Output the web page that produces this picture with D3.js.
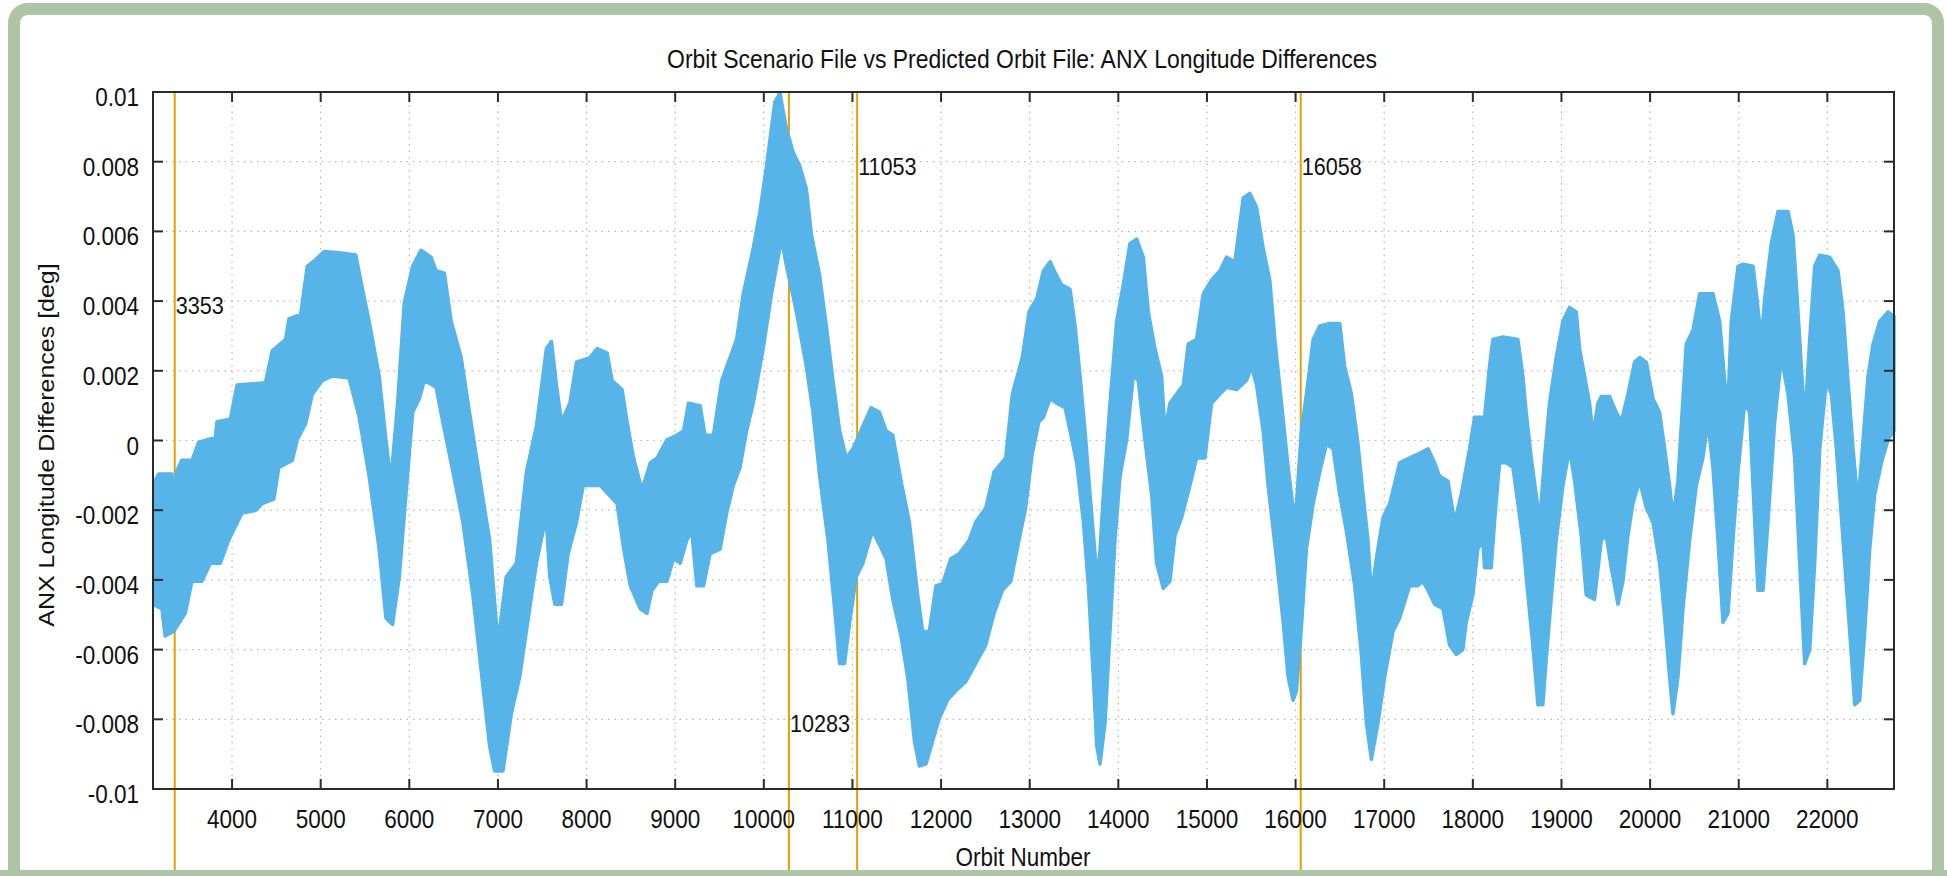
<!DOCTYPE html>
<html><head><meta charset="utf-8">
<script src="https://cdn.jsdelivr.net/npm/d3@7"></script>
<style>
html,body{margin:0;padding:0;background:#ffffff;}
svg{display:block;font-family:"Liberation Sans",Arial,Helvetica,sans-serif;}
</style>
</head><body>
<svg id="chart" width="1947" height="876"></svg>
<script>
// ---- DATA (orbit number, ANX longitude difference in 1e-3 deg) ----
// upper envelope of the scatter band
const upperOrbit = [3108,3170,3321,3350,3372,3434,3547,3623,3811,3830,3981,4057,4377,4453,4604,4642,4774,4849,4943,5038,5208,5396,5472,5547,5660,5736,5792,5868,5943,6038,6132,6245,6302,6396,6472,6585,6679,6792,6906,7000,7094,7208,7321,7434,7547,7604,7660,7717,7811,7887,8038,
8119,8232,8288,8400,8457,8531,8625,8719,8794,8906,9019,9094,9150,9281,9337,9431,9525,9600,9693,9768,9881,9956,10031,10124,10181,10256,10331,10406,10480,10537,10630,10705,10780,10855,10930,11005,11118,11211,11305,11380,11455,11548,11642,11736,11792,11867,11942,12017,12110,12204,12316,12391,12504,12598,12729,12804,12917,12992,
13080,13155,13230,13305,13361,13455,13512,13568,13624,13681,13737,13775,13831,13906,13981,14056,14131,14207,14282,14338,14413,14488,14526,14582,14657,14733,14789,14883,14958,15052,15146,15221,15315,15409,15484,15559,15634,15709,15766,15841,15916,15972,16010,16066,16122,16198,16273,16385,16498,16554,16630,16705,16761,16817,16855,16911,16987,17062,17174,17287,17400,17494,17569,17625,17719,17794,17869,17963,
18019,18132,18188,18226,18339,18508,18564,18602,18659,18715,18753,18809,18865,18941,19016,19091,19167,19204,19261,19317,19355,19411,19449,19543,19618,19675,19750,19825,19882,19957,20032,20107,20164,20220,20258,20314,20408,20484,20559,20709,20785,20841,20879,20916,20992,21048,21161,21199,21255,21293,21368,21443,21556,21612,21650,21688,21744,21801,21857,21914,22026,22120,22177,22233,22290,22346,22403,22459,22516,22591,22685,22752];
const upperMilliDeg = [-1.29,-0.96,-0.96,-1.8,-0.9,-0.57,-0.57,-0.05,0.09,0.54,0.61,1.59,1.66,2.57,2.90,3.49,3.62,5.0,5.19,5.42,5.39,5.32,4.34,3.42,1.85,0.02,-1.16,1.07,3.95,5.0,5.46,5.26,4.87,4.80,3.42,2.38,0.81,-1.03,-2.86,-5.81,-3.91,-3.52,-0.90,0.41,2.64,2.84,1.59,0.54,1.07,2.25,2.38,
2.64,2.51,1.72,1.46,0.54,-0.51,-1.42,-0.64,-0.51,0.02,0.15,0.28,1.07,1.00,0.15,0.15,1.72,2.25,2.90,4.21,5.52,6.57,7.88,9.71,9.97,8.93,8.27,7.88,7.22,5.91,4.73,3.29,1.72,0.28,-0.50,-0.24,0.41,0.94,0.81,0.28,0.15,-1.16,-2.34,-4.43,-5.48,-5.48,-4.17,-4.11,-3.39,-3.25,-2.86,-2.34,-1.94,-0.90,-0.50,1.33,2.38,3.69,
4.08,4.87,5.13,4.73,4.47,4.34,3.29,1.85,0.28,-1.55,-3.25,-3.91,-1.55,1.07,3.42,4.47,5.65,5.78,5.26,3.69,2.64,1.85,0.28,1.07,1.33,1.59,2.77,2.90,4.21,4.60,4.87,5.26,5.13,6.96,7.09,6.70,5.52,4.60,2.90,1.07,-0.77,-1.94,-1.81,0.28,1.33,2.90,3.29,3.36,3.36,2.12,1.33,-0.11,-1.55,-2.86,-4.43,-3.39,-2.21,-1.81,-0.64,-0.50,-0.37,-0.24,-0.64,-1.03,-1.16,-2.34,-1.55,-0.24,
0.67,0.67,2.12,2.90,2.97,2.90,1.85,0.81,-0.50,-1.55,-2.34,-0.50,1.07,2.38,3.42,3.82,3.69,2.64,1.85,1.07,0.15,1.07,1.26,1.26,0.81,0.54,1.33,2.25,2.38,2.25,1.20,0.81,-0.24,-1.29,-2.21,-1.16,2.77,3.16,4.21,4.21,3.42,1.72,1.07,3.42,5.0,5.06,5.0,4.21,2.90,4.08,5.65,6.57,6.57,5.91,4.47,2.90,0.54,2.90,5.0,5.32,5.26,4.87,3.69,1.72,-0.24,-1.81,0.02,1.85,2.77,3.42,3.69,3.56];

// lower envelope of the scatter band
const lowerOrbit = [3108,3208,3245,3340,3472,3547,3660,3755,3868,3962,4113,4264,4340,4472,4528,4679,4736,4830,4906,5019,5132,5321,5434,5547,5660,5736,5811,5887,5962,6038,6113,6170,6302,6377,6472,6604,6717,6830,6906,6962,7057,7151,7245,7358,7434,7509,7547,7585,7642,7717,7792,7887,7962,
8044,8157,8344,8419,8494,8606,8681,8738,8813,8906,8981,9056,9131,9187,9244,9319,9394,9506,9581,9656,9731,9806,9881,9993,10087,10199,10256,10368,10480,10555,10630,10724,10799,10855,10911,10968,11043,11118,11193,11230,11305,11380,11455,11548,11623,11699,11755,11830,11905,11980,12073,12167,12279,12391,12504,12598,12692,12786,12879,12954,13029,13104,
13155,13230,13305,13399,13455,13530,13606,13662,13718,13756,13793,13850,13906,13962,14019,14094,14169,14225,14300,14376,14432,14507,14582,14639,14714,14808,14883,14977,15052,15146,15221,15334,15446,15503,15559,15634,15690,15784,15860,15916,15972,16010,16066,16122,16198,16273,16348,16423,16498,16573,16667,16742,16799,16855,16930,17005,17099,17174,17287,17381,17437,17494,17569,17663,17738,17813,17887,17925,
18000,18056,18113,18132,18207,18245,18301,18376,18452,18508,18564,18621,18677,18734,18790,18828,18884,18941,19016,19091,19148,19223,19279,19373,19449,19505,19562,19637,19693,19750,19806,19882,19957,20032,20107,20164,20220,20258,20314,20371,20446,20521,20596,20653,20709,20766,20822,20879,20935,20992,21067,21123,21161,21217,21274,21330,21406,21481,21556,21631,21688,21744,21801,21857,21914,21989,22045,22102,22177,22252,22309,22365,22422,22478,22534,22610,22685,22752];
const lowerMilliDeg = [-4.70,-4.83,-5.61,-5.48,-4.96,-4.04,-4.04,-3.52,-3.52,-2.86,-2.08,-2.01,-1.81,-1.68,-0.77,-0.57,0.02,0.48,1.33,1.72,1.85,1.79,0.67,-1.03,-3.12,-5.09,-5.28,-3.91,-1.55,0.81,1.20,1.72,1.53,0.54,-0.64,-2.34,-4.43,-7.05,-8.76,-9.48,-9.48,-7.84,-6.79,-4.83,-3.52,-2.60,-2.34,-3.91,-4.70,-4.70,-3.25,-2.34,-1.29,
-1.29,-1.29,-1.81,-3.12,-4.17,-4.83,-4.96,-4.30,-4.04,-4.04,-3.39,-3.52,-2.86,-2.60,-4.17,-4.17,-3.25,-3.12,-2.08,-1.29,-0.77,0.28,1.07,2.64,4.21,5.78,5.0,3.69,2.12,0.81,-1.03,-2.86,-4.83,-6.40,-6.40,-5.22,-3.91,-3.52,-2.86,-2.60,-2.99,-3.39,-4.56,-5.61,-6.79,-8.62,-9.34,-9.28,-8.62,-7.97,-7.45,-7.18,-6.92,-6.40,-5.87,-4.96,-4.30,-4.04,-2.86,-1.94,-0.37,0.54,
0.67,1.20,1.07,0.94,0.28,-0.64,-2.34,-4.17,-6.79,-8.76,-9.28,-8.10,-5.48,-2.86,-1.03,0.02,1.85,1.72,0.02,-1.55,-3.52,-4.24,-4.04,-2.73,-2.21,-1.29,-0.50,-0.50,1.07,1.33,1.53,1.46,1.72,2.12,1.59,0.28,-1.29,-3.39,-5.22,-6.79,-7.45,-7.18,-5.35,-3.12,-1.81,-0.90,-0.11,-0.24,-1.55,-2.60,-4.17,-6.14,-8.10,-9.15,-8.10,-6.79,-5.48,-5.09,-4.17,-4.17,-4.04,-4.30,-4.70,-4.83,-5.87,-6.14,-6.0,-5.22,
-4.43,-3.12,-2.86,-3.65,-3.65,-2.34,-0.64,-0.64,-0.77,-1.81,-2.86,-4.43,-5.87,-7.58,-7.58,-6.27,-4.56,-2.86,-1.29,-0.24,-1.16,-2.73,-4.43,-4.56,-2.86,-2.73,-3.65,-4.70,-4.04,-2.73,-1.81,-1.16,-1.94,-2.34,-3.52,-5.09,-6.79,-7.84,-6.79,-4.83,-2.86,-1.29,-0.50,0.54,-0.77,-2.86,-5.22,-4.96,-2.86,-0.90,1.07,0.81,-1.29,-4.30,-4.30,-2.34,0.54,2.38,1.33,-0.50,-3.52,-6.40,-6.01,-3.52,-0.24,1.72,1.33,-0.24,-2.86,-5.48,-7.58,-7.45,-5.48,-3.12,-1.55,-0.64,0.02,0.28];

// marked orbits (vertical lines) and the level at which their label sits
const markerOrbits = [3353, 10283, 11053, 16058];
const markerLabelLevels = [0.004, -0.008, 0.008, 0.008];

// axes
const xTickValues = [4000,5000,6000,7000,8000,9000,10000,11000,12000,13000,14000,15000,16000,17000,18000,19000,20000,21000,22000];
const yTickValues = [-0.01,-0.008,-0.006,-0.004,-0.002,0,0.002,0.004,0.006,0.008,0.01];
const yTickLabels = ["-0.01","-0.008","-0.006","-0.004","-0.002","0","0.002","0.004","0.006","0.008","0.01"];
const xDomain = [3108, 22752];
const yDomain = [-0.01, 0.01];

const titleText = "Orbit Scenario File vs Predicted Orbit File: ANX Longitude Differences";
const xLabelText = "Orbit Number";
const yLabelText = "ANX Longitude Differences [deg]";

// ---- LAYOUT ----
const W = 1947, H = 876;
const plot = {left: 153, right: 1894, top: 92, bottom: 789};
const squeeze = 0.9;   // the source image is horizontally compressed
const dataColor = "#56B4E9";
const markerColor = "#E69F00";
const frameColor = "#2b2b2b";

const svg = d3.select("#chart");

// page border
svg.append("rect").attr("x",0).attr("y",0).attr("width",W).attr("height",H).attr("fill","#ffffff");
svg.append("rect").attr("x",14).attr("y",9).attr("width",1924).attr("height",900)
  .attr("rx",14).attr("ry",14).attr("fill","#ffffff").attr("stroke","#adc4a7").attr("stroke-width",12);
svg.append("rect").attr("x",0).attr("y",870).attr("width",W).attr("height",6).attr("fill","#adc4a7");

const x = d3.scaleLinear().domain(xDomain).range([plot.left, plot.right]);
const y = d3.scaleLinear().domain(yDomain).range([plot.bottom, plot.top]);

// grid
const grid = svg.append("g").attr("stroke","#b8b8b8").attr("stroke-width",1.2).attr("stroke-dasharray","1.5,5");
grid.selectAll("line.gx").data(xTickValues).join("line").attr("class","gx")
  .attr("x1",d=>x(d)).attr("x2",d=>x(d)).attr("y1",plot.top).attr("y2",plot.bottom);
grid.selectAll("line.gy").data(yTickValues.slice(1,-1)).join("line").attr("class","gy")
  .attr("y1",d=>y(d)).attr("y2",d=>y(d)).attr("x1",plot.left).attr("x2",plot.right);

// marker lines (under the data)
svg.append("g").selectAll("line").data(markerOrbits).join("line")
  .attr("x1",d=>x(d)).attr("x2",d=>x(d)).attr("y1",plot.top).attr("y2",870)
  .attr("stroke",markerColor).attr("stroke-width",2);

// data band
const upper = upperOrbit.map((o,i)=>[o, upperMilliDeg[i]/1000]);
const lower = lowerOrbit.map((o,i)=>[o, lowerMilliDeg[i]/1000]);
const band = upper.concat(lower.slice().reverse());
const line = d3.line().x(d=>x(d[0])).y(d=>y(d[1]));
const clip = svg.append("clipPath").attr("id","plotclip").append("rect")
  .attr("x",plot.left).attr("y",plot.top-4).attr("width",plot.right-plot.left+4).attr("height",plot.bottom-plot.top+8);
svg.append("path").attr("d", line(band) + "Z").attr("clip-path","url(#plotclip)")
  .attr("fill", dataColor).attr("stroke", dataColor).attr("stroke-width", 3.5).attr("stroke-linejoin","round");

// marker labels
svg.append("g").selectAll("text").data(markerOrbits).join("text")
  .attr("transform",(d,i)=>`translate(${x(d)+1},${y(markerLabelLevels[i])+13}) scale(${squeeze},1)`)
  .attr("font-size",24).attr("fill","#111").text(d=>String(d));

// frame
svg.append("rect").attr("x",plot.left).attr("y",plot.top).attr("width",plot.right-plot.left).attr("height",plot.bottom-plot.top)
  .attr("fill","none").attr("stroke",frameColor).attr("stroke-width",2);

// ticks (mirrored, inward)
const tl = 10;
const ticks = svg.append("g").attr("stroke",frameColor).attr("stroke-width",2);
ticks.selectAll("line.tb").data(xTickValues).join("line").attr("class","tb")
  .attr("x1",d=>x(d)).attr("x2",d=>x(d)).attr("y1",plot.bottom).attr("y2",plot.bottom-tl);
ticks.selectAll("line.tt").data(xTickValues).join("line").attr("class","tt")
  .attr("x1",d=>x(d)).attr("x2",d=>x(d)).attr("y1",plot.top).attr("y2",plot.top+tl);
ticks.selectAll("line.tl").data(yTickValues).join("line").attr("class","tl")
  .attr("y1",d=>y(d)).attr("y2",d=>y(d)).attr("x1",plot.left).attr("x2",plot.left+tl);
ticks.selectAll("line.tr").data(yTickValues).join("line").attr("class","tr")
  .attr("y1",d=>y(d)).attr("y2",d=>y(d)).attr("x1",plot.right).attr("x2",plot.right-tl);

// tick labels
svg.append("g").selectAll("text").data(xTickValues).join("text")
  .attr("transform",d=>`translate(${x(d)},828) scale(${squeeze},1)`)
  .attr("text-anchor","middle").attr("font-size",25).attr("fill","#111").text(d=>String(d));
svg.append("g").selectAll("text").data(yTickValues).join("text")
  .attr("transform",d=>`translate(139,${y(d)+14}) scale(${squeeze},1)`)
  .attr("text-anchor","end").attr("font-size",25).attr("fill","#111").text((d,i)=>yTickLabels[i]);

// title and axis labels
svg.append("text").attr("transform",`translate(1022,68) scale(${squeeze},1)`)
  .attr("text-anchor","middle").attr("font-size",25.5).attr("fill","#111").text(titleText);
svg.append("text").attr("transform",`translate(1023,866) scale(${squeeze},1)`)
  .attr("text-anchor","middle").attr("font-size",25).attr("fill","#111").text(xLabelText);
svg.append("text").attr("transform",`translate(54,445) scale(${squeeze},1) rotate(-90)`)
  .attr("text-anchor","middle").attr("font-size",25).attr("fill","#111").text(yLabelText);
</script>
</body></html>
